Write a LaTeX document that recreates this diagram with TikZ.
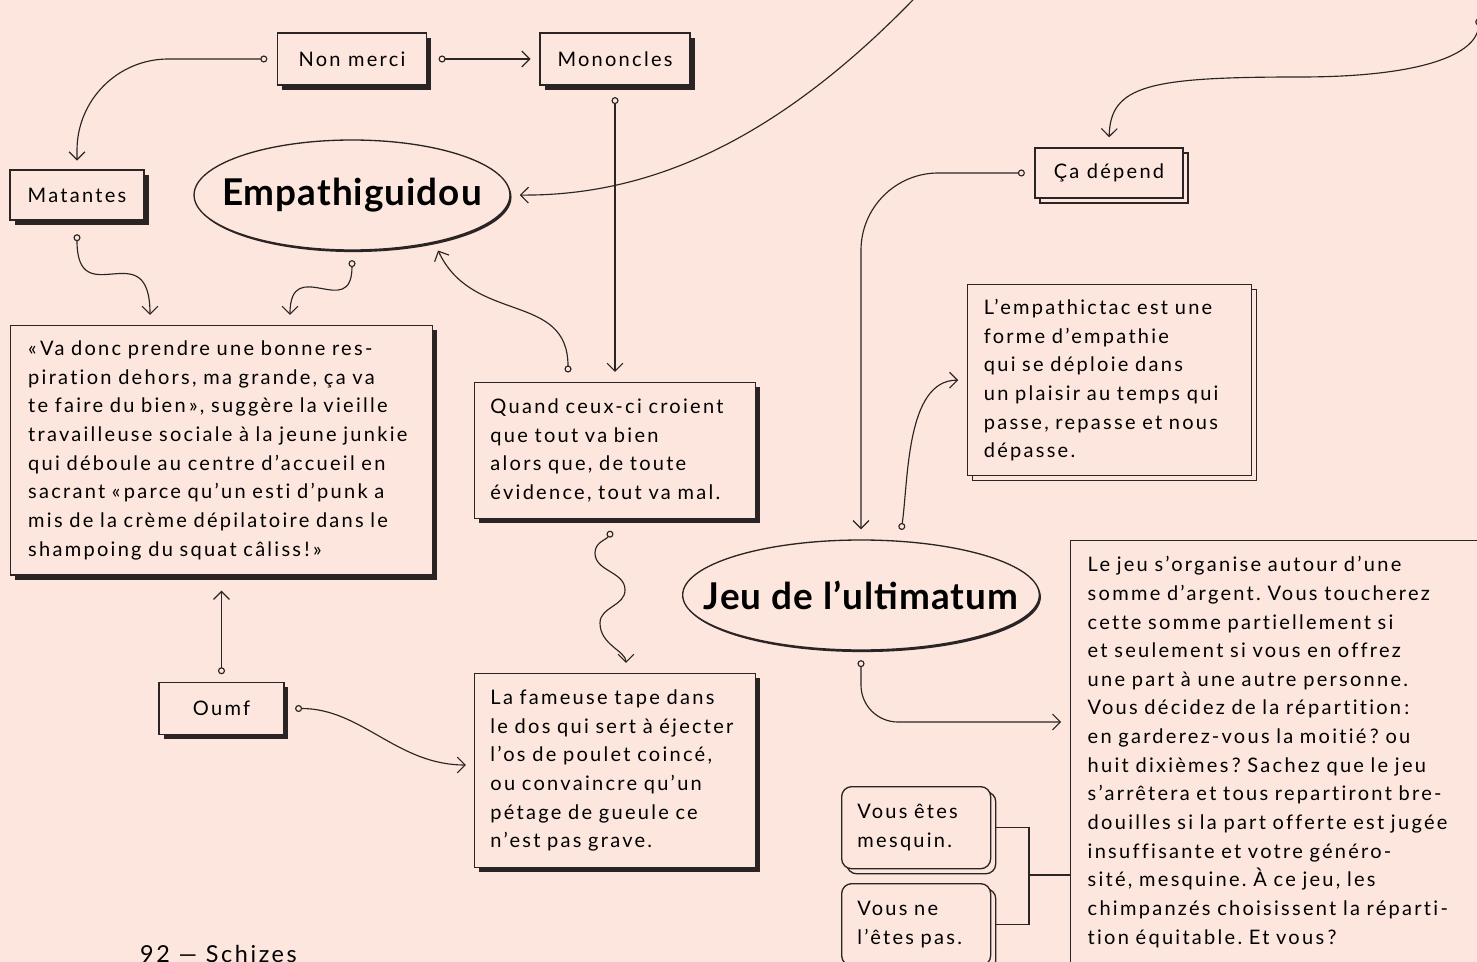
\documentclass[tikz,border=0pt]{standalone}
\usepackage{fontspec}
\setmainfont{Lato}[LetterSpace=11.3, Ligatures=NoCommon]
\newfontfamily\titleface{Lato}[LetterSpace=2.7]
\usetikzlibrary{arrows.meta,shapes.geometric,shadows,calc}

\definecolor{paper}{HTML}{FCE6DD}
\definecolor{ink}{HTML}{2A2424}

\newcommand{\bodyfont}{\fontsize{11.4}{16.3}\selectfont}
\newcommand{\titlefont}{\titleface\fontsize{21}{24}\selectfont\bfseries}
\frenchspacing

\tikzset{
  box/.style={draw=ink, line width=0.75pt, fill=paper, align=left, font=\bodyfont,
    drop shadow={shadow xshift=2.6pt, shadow yshift=-2.6pt, fill=ink, opacity=1}},
  tag/.style={box, align=center, inner sep=0pt, minimum height=29.6pt},
  stack/.style={draw=ink, line width=0.75pt, fill=paper, align=left, font=\bodyfont,
    copy shadow={shadow xshift=2.9pt, shadow yshift=-2.9pt}},
  bubble/.style={ellipse, draw=ink, line width=0.75pt, fill=paper, inner sep=0pt,
    drop shadow={shadow xshift=0.9pt, shadow yshift=-1.2pt, fill=ink, opacity=1}},
  link/.style={draw=ink, line width=0.65pt, shorten <=5.4pt, shorten >=5pt,
    {Circle[open,length=4pt]}-{Straight Barb[length=4.5pt,width=9pt]}},
  wire/.style={draw=ink, line width=0.75pt},
}

\begin{document}
\begin{tikzpicture}[x=0.02cm, y=0.02cm]

\useasboundingbox (0,0) rectangle (1477,-962);
\clip (0,0) rectangle (1477,-962);
\fill[paper] (0,0) rectangle (1477,-962);

% small tags
\node[tag, minimum width=84.8pt] (nonmerci) at (352,-59) {Non merci};
\node[tag, minimum width=85.4pt] (mononcles) at (615,-59) {Mononcles};
\node[tag, minimum width=76.2pt, minimum height=28.5pt] (matantes) at (77,-195) {Matantes};
\node[tag, minimum width=71pt] (oumf) at (221.5,-708.5) {Oumf};
\node[stack, align=center, inner sep=0pt, minimum width=84.2pt, minimum height=28.5pt] (cadepend) at (1109,-173) {Ça dépend};

% the two bubbles
\node[bubble, minimum width=179.8pt, minimum height=62.6pt,
  label={[font=\titlefont]center:Empathiguidou}] (empathi) at (352,-195) {};
\node[bubble, minimum width=203pt, minimum height=62.6pt,
  label={[font=\titlefont]center:Jeu de l’ultimatum}] (jeu) at (861,-595) {};

% text boxes
\node[box, anchor=north west, text width=220pt, inner xsep=10pt, minimum height=142pt] (quote) at (10,-325)
  {«\,Va donc prendre une bonne res-\\
   piration dehors, ma grande, ça va\\
   te faire du bien\,», suggère la vieille\\
   travailleuse sociale à la jeune junkie\\
   qui déboule au centre d’accueil en\\
   sacrant «\,parce qu’un esti d’punk a\\
   mis de la crème dépilatoire dans le\\
   shampoing du squat câliss\,!\,»};

\node[box, anchor=north west, text width=142pt, inner xsep=9pt, minimum height=77.4pt] (quand) at (474,-382)
  {Quand ceux-ci croient\\
   que tout va bien\\
   alors que, de toute\\
   évidence, tout va mal.};

\node[box, anchor=north west, text width=142pt, inner xsep=9pt, minimum height=110.4pt] (fameuse) at (474,-673)
  {La fameuse tape dans\\
   le dos qui sert à éjecter\\
   l’os de poulet coincé,\\
   ou convaincre qu’un\\
   pétage de gueule ce\\
   n’est pas grave.};

\node[stack, anchor=north west, text width=143.2pt, inner xsep=9.2pt, minimum height=108.7pt] (tictac) at (967,-284)
  {L’empathictac est une\\
   forme d’empathie\\
   qui se déploie dans\\
   un plaisir au temps qui\\
   passe, repasse et nous\\
   dépasse.};

\node[wire, anchor=north west, fill=paper, align=left, font=\bodyfont, text width=222pt, inner xsep=9.7pt, inner ysep=9pt] (regle) at (1070,-540)
  {Le jeu s’organise autour d’une\\
   somme d’argent. Vous toucherez\\
   cette somme partiellement si\\
   et seulement si vous en offrez\\
   une part à une autre personne.\\
   Vous décidez de la répartition\,:\\
   en garderez-vous la moitié\,? ou\\
   huit dixièmes\,? Sachez que le jeu\\
   s’arrêtera et tous repartiront bre-\\
   douilles si la part offerte est jugée\\
   insuffisante et votre généro-\\
   sité, mesquine. À ce jeu, les\\
   chimpanzés choisissent la réparti-\\
   tion équitable. Et vous\,?};

\node[stack, rounded corners=5.7pt, anchor=north west, text width=66.8pt, inner xsep=9pt, minimum height=46.7pt] (mesquin) at (841,-786)
  {Vous êtes\\ mesquin.};
\node[stack, rounded corners=5.7pt, anchor=north west, text width=66.8pt, inner xsep=9pt, minimum height=46.7pt] (pasmesquin) at (841,-883)
  {Vous ne\\ l’êtes pas.};

\node[anchor=base west, font=\fontsize{13.3}{16}\selectfont] (folio) at (134,-962) {92 — Schizes};

% connectors
\coordinate (sky) at (932,20);
\coordinate (corner) at (1479,-9);
\coordinate (fork) at (1029,-875);

\draw[link, rounded corners=52pt] (nonmerci.west) -| (matantes.north);
\draw[link, shorten <=6.5pt] (nonmerci.east) -- (mononcles.west);
\draw[link, shorten <=6.5pt, shorten >=5.7pt] (mononcles.south) -- (mononcles.south |- quand.north);
\draw[link, shorten <=7.7pt, shorten >=5.7pt] (matantes.south) to[out=-90, in=90, looseness=1.9] ($(quote.north west)+(140,0)$);
\draw[link, shorten >=5.7pt] (empathi.south) to[out=-90, in=90, looseness=1.9] ($(quote.north west)+(280,0)$);
\draw[link] ($(quand.north west)+(94,0)$) to[out=90, in=-65, looseness=1.2] (empathi.-30);
\draw[link, shorten >=5.2pt] (sky) .. controls (770,-150) and (640,-196) .. (empathi.east);
\draw[link, shorten >=5.7pt] (corner) .. controls (1478,-55) and (1420,-77) .. (1300,-77)
  .. controls (1150,-77) and (1110,-85) .. (cadepend.north);
\draw[link, rounded corners=44pt, shorten >=5.7pt] (cadepend.west) -| (jeu.north);
\draw[link] ($(jeu.north)+(39,0)$) to[out=82, in=180, looseness=0.9] (tictac.west);
\draw[link, rounded corners=21pt] (jeu.south) |- ($(regle.north west)+(0,-182)$);
\draw[link, shorten <=0pt, shorten >=5.7pt] ($(quand.south west)+(138,-12)$) to[out=-125, in=90] (595,-553)
  to[out=-90, in=90] (625,-590) to[out=-90, in=90] (600,-623) to[out=-90, in=90] ($(fameuse.north west)+(152,0)$);
\draw[link, shorten <=4.3pt, shorten >=8.5pt] (oumf.north) -- (oumf.north |- quote.south);
\draw[link, shorten <=6pt, shorten >=4.6pt] (oumf.east) to[out=0, in=180] ($(fameuse.north west)+(0,-92)$);

\draw[wire] ($(mesquin.east)+(5,0)$) -| (fork) |- ($(pasmesquin.east)+(5,0)$);
\draw[wire] (fork) -- (fork -| regle.west);

\end{tikzpicture}
\end{document}
